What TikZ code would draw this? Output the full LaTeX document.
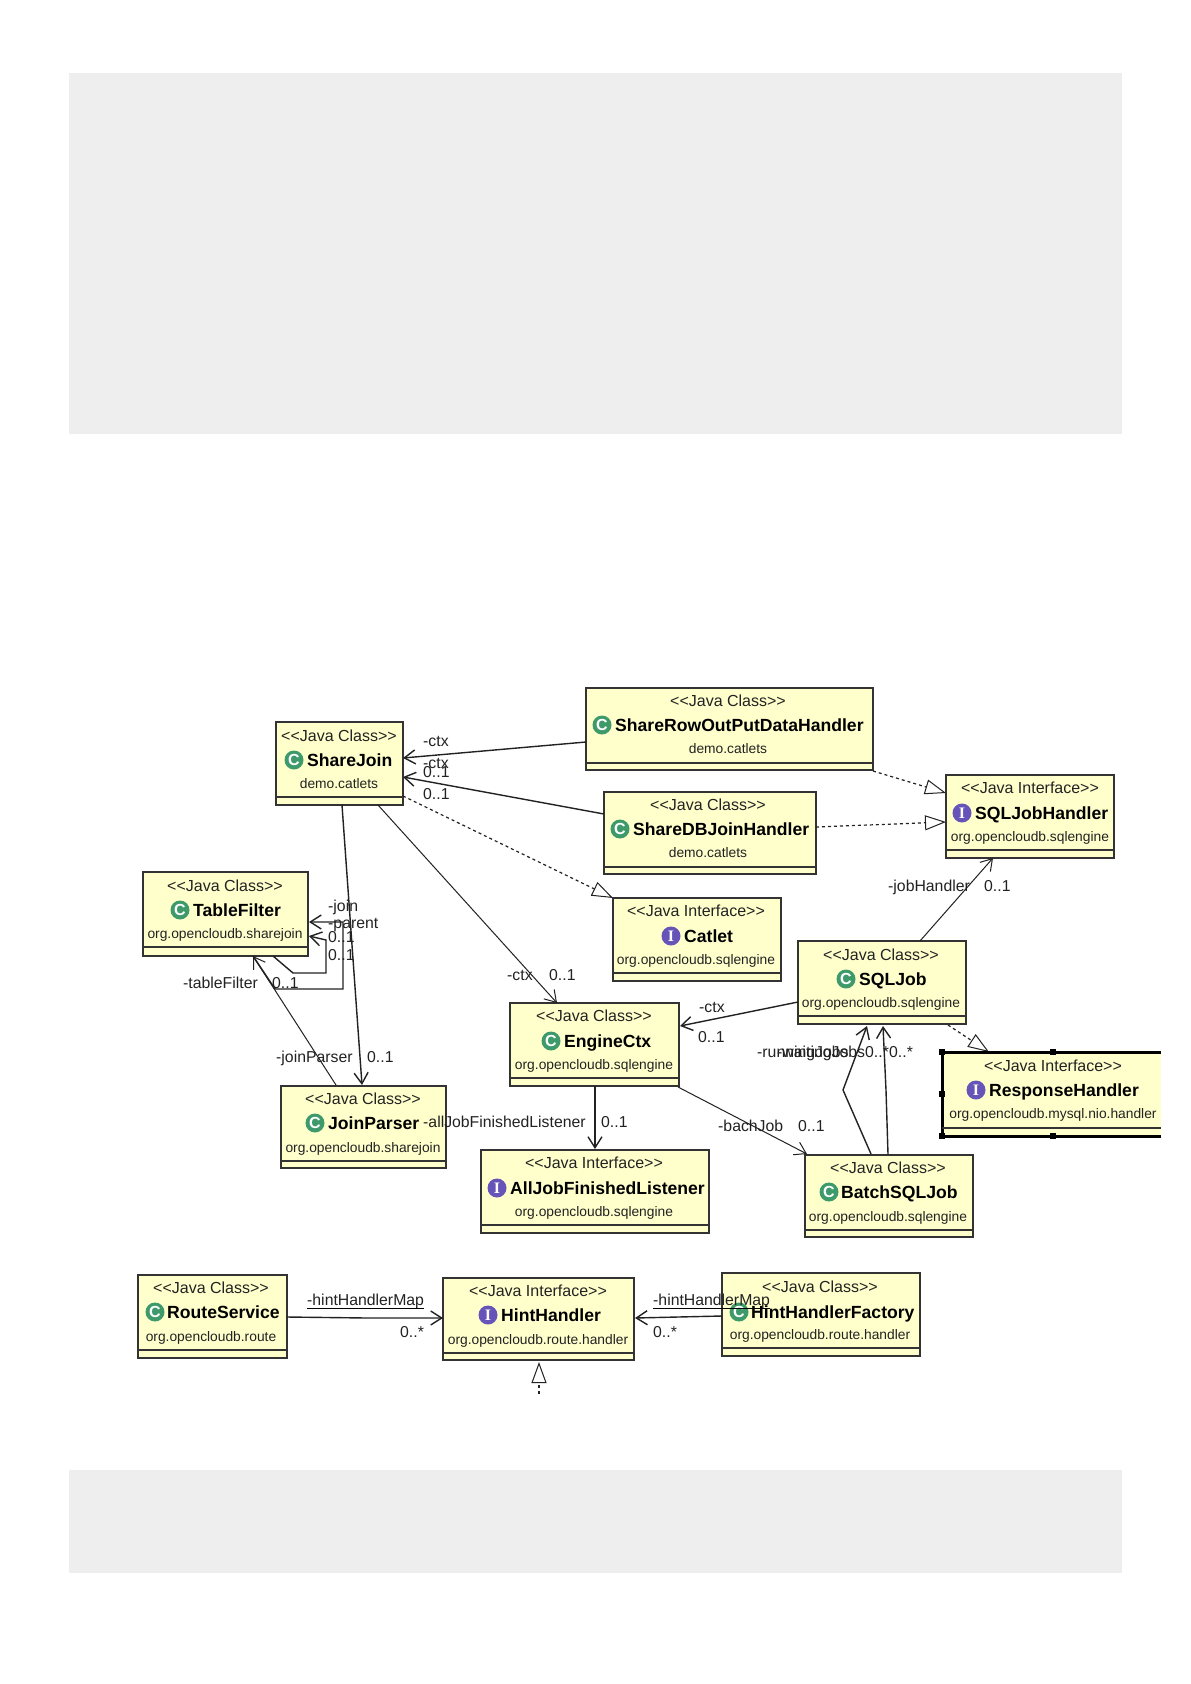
\documentclass[tikz,border=0pt]{standalone}
\usepackage{fontspec}
\setmainfont{Liberation Sans}
\newfontfamily\iconfont{Liberation Serif}
\usetikzlibrary{arrows.meta,backgrounds}
\definecolor{boxfill}{HTML}{FFFFCC}
\definecolor{boxline}{HTML}{333333}
\definecolor{pagegray}{HTML}{EEEEEE}
\definecolor{classgreen}{HTML}{3F9A6B}
\definecolor{ifacepurple}{HTML}{6654B8}
\definecolor{inktext}{HTML}{222222}
\tikzset{
  umlbox/.style={draw=boxline,fill=boxfill,line width=1.2pt,inner sep=0pt,outer sep=0pt,anchor=north west},
  selbox/.style={fill=boxfill,inner sep=0pt,outer sep=0pt,anchor=north west},
  divider/.style={draw=boxline,line width=1.2pt},
  stereo/.style={inner sep=0pt,text height=11pt,text depth=0pt,font=\fontsize{16}{17}\selectfont,text=inktext},
  pkgtext/.style={inner sep=0pt,text height=10pt,text depth=0pt,font=\fontsize{13.8}{15}\selectfont,text=inktext},
  nametext/.style={inner sep=0pt,anchor=west,text height=13pt,text depth=0pt,font=\fontsize{17.6}{19}\bfseries\selectfont},
  iconC/.style={circle,fill=classgreen,inner sep=0pt,minimum size=19pt,text=white,font=\fontsize{16}{16}\bfseries\selectfont},
  iconI/.style={circle,fill=ifacepurple,inner sep=0pt,minimum size=19pt,text=white,font=\iconfont\fontsize{16}{16}\bfseries\selectfont},
  lbl/.style={inner sep=0pt,anchor=west,text height=11pt,text depth=0pt,font=\fontsize{15.8}{16}\selectfont,text=inktext},
  assoc/.style={draw=inktext,line width=1pt,-{Straight Barb[length=11pt,width=14pt]}},
  assocb/.style={assoc,line width=1.4pt},
  realize/.style={draw=inktext,line width=1.2pt,dash pattern=on 3pt off 3pt,-{Triangle[open,length=21pt,width=15pt,line width=1pt]}},
  stray/.style={draw=black,line width=1.2pt},
  selline/.style={draw=black,line width=3pt},
  handle/.style={fill=black,inner sep=0pt,minimum size=6.5pt},
}
% id x1 y1 x2 y2 divider-y
\newcommand{\umlBox}[6]{%
  \node[umlbox,minimum width={(#4-#2)*1pt},minimum height={(#5-#3)*1pt}] (#1) at (#2,#3) {};
  \draw[divider] ([shift={(0,#6-#3)}]#1.north west) -- ([shift={(0,#6-#3)}]#1.north east);}
% id cx stereo-y stereotype pkg-y pkg
\newcommand{\umlText}[6]{%
  \node[stereo] (#1s) at (#2,#3) {#4};
  \node[pkgtext] (#1p) at (#2,#5) {#6};}
% id iconstyle letter iconx y namex name
\newcommand{\umlName}[7]{%
  \node[#2] (#1i) at (#4,#5) {#3};
  \node[nametext] (#1n) at (#6,#5) {#7};}
\newcommand{\lab}[4]{\node[lbl] (#1) at (#2,#3) {#4};}
\begin{document}
\begin{tikzpicture}[x=1pt,y=-1pt]
\useasboundingbox (0,0) rectangle (1191,1684);
\begin{pgfonlayer}{background}
  \fill[white] (0,0) rectangle (1191,1684);
  \fill[pagegray] (69,73) rectangle (1122,434);
  \fill[pagegray] (69,1470) rectangle (1122,1573);
\end{pgfonlayer}

% boxes
\umlBox{sj}{276}{722}{403}{805}{797}
\umlText{sj}{339}{736}{<{}<Java Class>{}>}{783}{demo.catlets}
\umlName{sj}{iconC}{C}{294}{760}{307}{ShareJoin}

\umlBox{sr}{586}{688}{873}{770}{763}
\umlText{sr}{728}{701}{<{}<Java Class>{}>}{748}{demo.catlets}
\umlName{sr}{iconC}{C}{602}{725}{615}{ShareRowOutPutDataHandler}

\umlBox{sd}{604}{792}{816}{874}{867}
\umlText{sd}{708}{805}{<{}<Java Class>{}>}{852}{demo.catlets}
\umlName{sd}{iconC}{C}{620}{829}{633}{ShareDBJoinHandler}

\umlBox{hd}{946}{775}{1114}{858}{850}
\umlText{hd}{1030}{788}{<{}<Java Interface>{}>}{836}{org.opencloudb.sqlengine}
\umlName{hd}{iconI}{I}{962}{813}{975}{SQLJobHandler}

\umlBox{cat}{613}{898}{781}{981}{973}
\umlText{cat}{696}{911}{<{}<Java Interface>{}>}{959}{org.opencloudb.sqlengine}
\umlName{cat}{iconI}{I}{671}{936}{684}{Catlet}

\umlBox{tf}{143}{872}{308}{956}{947}
\umlText{tf}{225}{886}{<{}<Java Class>{}>}{933}{org.opencloudb.sharejoin}
\umlName{tf}{iconC}{C}{180}{910}{193}{TableFilter}

\umlBox{sq}{798}{941}{966}{1024}{1016}
\umlText{sq}{881}{955}{<{}<Java Class>{}>}{1002}{org.opencloudb.sqlengine}
\umlName{sq}{iconC}{C}{846}{979}{859}{SQLJob}

\umlBox{eng}{510}{1003}{679}{1086}{1078}
\umlText{eng}{594}{1016}{<{}<Java Class>{}>}{1064}{org.opencloudb.sqlengine}
\umlName{eng}{iconC}{C}{551}{1041}{564}{EngineCtx}

\umlBox{jp}{281}{1086}{446}{1168}{1161}
\umlText{jp}{363}{1099}{<{}<Java Class>{}>}{1147}{org.opencloudb.sharejoin}
\umlName{jp}{iconC}{C}{315}{1123}{328}{JoinParser}

\umlBox{all}{481}{1150}{709}{1233}{1225}
\umlText{all}{594}{1163}{<{}<Java Interface>{}>}{1211}{org.opencloudb.sqlengine}
\umlName{all}{iconI}{I}{497}{1188}{510}{AllJobFinishedListener}

\umlBox{bj}{805}{1155}{973}{1237}{1230}
\umlText{bj}{888}{1168}{<{}<Java Class>{}>}{1216}{org.opencloudb.sqlengine}
\umlName{bj}{iconC}{C}{829}{1192}{841}{BatchSQLJob}

\umlBox{rs}{138}{1275}{287}{1358}{1350}
\umlText{rs}{211}{1288}{<{}<Java Class>{}>}{1336}{org.opencloudb.route}
\umlName{rs}{iconC}{C}{155}{1312}{167}{RouteService}

\umlBox{hh}{443}{1278}{634}{1360}{1353}
\umlText{hh}{538}{1291}{<{}<Java Interface>{}>}{1339}{org.opencloudb.route.handler}
\umlName{hh}{iconI}{I}{488}{1315}{501}{HintHandler}

\umlBox{hf}{722}{1273}{920}{1356}{1348}
\umlText{hf}{820}{1287}{<{}<Java Class>{}>}{1334}{org.opencloudb.route.handler}
\umlName{hf}{iconC}{C}{739}{1312}{751}{HintHandlerFactory}

% selected box, cut off at its right side
\node[selbox,minimum width=219pt,minimum height=84pt] (rh) at (942,1052) {};
\draw[selline] (rh.north west) -- (rh.north east);
\draw[selline] (rh.south west) -- (rh.south east);
\draw[selline] (rh.north west) -- (rh.south west);
\draw[divider] ([shift={(0,76)}]rh.north west) -- ([shift={(0,76)}]rh.north east);
\node[handle] (rh1) at (rh.north west) {};
\node[handle] (rh2) at ([shift={(111,0)}]rh.north west) {};
\node[handle] (rh3) at (rh.west) {};
\node[handle] (rh4) at (rh.south west) {};
\node[handle] (rh5) at ([shift={(111,0)}]rh.south west) {};
\umlText{rh}{1053}{1066}{<{}<Java Interface>{}>}{1113}{org.opencloudb.mysql.nio.handler}
\umlName{rh}{iconI}{I}{976}{1090}{989}{ResponseHandler}

% connectors
\draw[assocb] ([shift={(0,54)}]sr.north west) -- ([shift={(127,36)}]sj.north west);
\draw[assocb] ([shift={(0,22)}]sd.north west) -- ([shift={(127,55)}]sj.north west);
\draw[realize] ([shift={(127,74)}]sj.north west) -- (cat.north west);
\draw[assoc] ([shift={(102,83)}]sj.north west) -- ([shift={(47,0)}]eng.north west);
\draw[assocb] ([shift={(66,83)}]sj.north west) -- ([shift={(81,-1)}]jp.north west);
\draw[assoc] ([shift={(55,-1)}]jp.north west) -- ([shift={(110,84)}]tf.north west);
\draw[assocb] ([shift={(130,84)}]tf.north west) -- ([shift={(150,101)}]tf.north west) -- ([shift={(183,101)}]tf.north west) -- ([shift={(183,68)}]tf.north west) -- ([shift={(166,64)}]tf.north west);
\draw[assocb] ([shift={(110,84)}]tf.north west) -- ([shift={(132,117)}]tf.north west) -- ([shift={(200,117)}]tf.north west) -- ([shift={(200,50)}]tf.north west) -- ([shift={(166,50)}]tf.north west);
\draw[assocb] ([shift={(0,61)}]sq.north west) -- ([shift={(170,23)}]eng.north west);
\draw[assoc] ([shift={(122,0)}]sq.north west) -- ([shift={(47,83)}]hd.north west);
\begin{pgfonlayer}{background}
  \draw[realize] ([shift={(150,84)}]sq.north west) -- ([shift={(47,0)}]rh.north west);
\end{pgfonlayer}
\draw[assoc] ([shift={(168,84)}]eng.north west) -- ([shift={(2,-1)}]bj.north west);
\draw[assocb] ([shift={(85,83)}]eng.north west) -- ([shift={(114,-1)}]all.north west);
\draw[assocb] ([shift={(66,-1)}]bj.north west) -- ([shift={(38,-65)}]bj.north west) -- ([shift={(69,85)}]sq.north west);
\draw[assocb] ([shift={(83,-1)}]bj.north west) -- ([shift={(81,-65)}]bj.north west) -- ([shift={(85,85)}]sq.north west);
\draw[assocb] ([shift={(149,42)}]rs.north west) -- ([shift={(-76,40)}]hh.north west) -- ([shift={(0,40)}]hh.north west);
\draw[assocb] ([shift={(0,43)}]hf.north west) -- ([shift={(-44,44)}]hf.north west) -- ([shift={(192,40)}]hh.north west);
\draw[realize] ([shift={(287,83)}]sr.north west) -- ([shift={(0,18)}]hd.north west);
\draw[realize] ([shift={(212,35)}]sd.north west) -- ([shift={(0,47)}]hd.north west);
\coordinate (hhfree) at (539,1394);
\draw[realize] (hhfree) -- ([shift={(96,84)}]hh.north west);

% labels
\lab{l1}{423}{741}{-ctx}
\lab{l2}{423}{763}{-ctx}
\lab{l3}{423}{772}{0..1}
\lab{l4}{423}{794}{0..1}
\lab{l5}{507}{975}{-ctx}
\lab{l6}{549}{975}{0..1}
\lab{l7}{276}{1057}{-joinParser}
\lab{l8}{367}{1057}{0..1}
\lab{l9}{183}{983}{-tableFilter}
\lab{l10}{272}{983}{0..1}
\lab{l11}{328}{906}{-join}
\lab{l12}{328}{923}{-parent}
\lab{l13}{328}{937}{0..1}
\lab{l14}{328}{955}{0..1}
\lab{l15}{699}{1007}{-ctx}
\lab{l16}{698}{1037}{0..1}
\lab{l17}{888}{886}{-jobHandler}
\lab{l18}{984}{886}{0..1}
\lab{l19}{718}{1126}{-bachJob}
\lab{l20}{798}{1126}{0..1}
\lab{l21}{423}{1122}{-allJobFinishedListener}
\lab{l22}{601}{1122}{0..1}
\lab{l23}{757}{1052}{-runningJobs}
\lab{l24}{777}{1052}{-waitingJobs}
\lab{l25}{865}{1052}{0..*}
\lab{l26}{889}{1052}{0..*}
\lab{l27}{307}{1300}{-hintHandlerMap}
\lab{l28}{400}{1332}{0..*}
\lab{l29}{653}{1300}{-hintHandlerMap}
\lab{l30}{653}{1332}{0..*}
\draw[stray] ([yshift=-3pt]l27.south west) -- ([yshift=-3pt]l27.south east);
\draw[stray] ([yshift=-3pt]l29.south west) -- ([yshift=-3pt]l29.south east);
\end{tikzpicture}
\end{document}
